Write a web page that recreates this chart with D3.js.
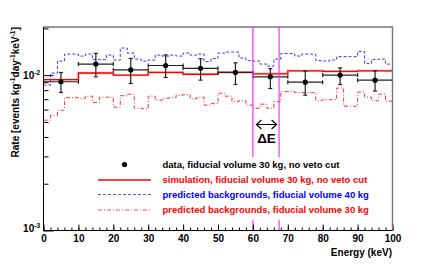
<!DOCTYPE html>
<html>
<head>
<meta charset="utf-8">
<title>Rate vs Energy</title>
<style>
  body { margin: 0; background: #fff; }
  svg#canvas { display: block; font-family: "Liberation Sans", Arial, sans-serif; font-weight: bold; }
</style>
</head>
<body>
<svg id="canvas" width="436" height="272"></svg>
<script src="https://cdn.jsdelivr.net/npm/d3@7"></script>
<script>
// measured data, 10 keV bins
const dataE = [5, 15, 25, 35, 45, 55, 65, 75, 85, 95];
const dataRate = [0.00906, 0.01178, 0.0108, 0.01153, 0.01105, 0.0104, 0.00975, 0.00901, 0.0100, 0.00928];
const dataHi = [0.0104, 0.0138, 0.0128, 0.0135, 0.01274, 0.0120, 0.0110, 0.0106, 0.01114, 0.01066];
const dataLo = [0.00773, 0.00975, 0.00883, 0.00966, 0.00928, 0.0087, 0.0082, 0.00743, 0.0087, 0.0079];

// simulation, 10 keV bins
const simRate = [0.00935, 0.01032, 0.0100, 0.0104, 0.01013, 0.0104, 0.0102, 0.01066, 0.01056, 0.01066];

// predicted backgrounds, 2 keV bins
const bkg40 = [0.00862, 0.0103, 0.01231, 0.01366, 0.01366, 0.01326, 0.01366, 0.01259, 0.01259, 0.01346,
  0.0125, 0.01494, 0.01387, 0.01268, 0.01231, 0.0125, 0.01346, 0.01326, 0.01346, 0.01326,
  0.01387, 0.01346, 0.01366, 0.01222, 0.01278, 0.01387, 0.01407, 0.01407, 0.01288, 0.0124,
  0.01231, 0.01178, 0.01143, 0.01268, 0.01376, 0.01376, 0.01326, 0.01366, 0.01366, 0.0124,
  0.01231, 0.0125, 0.01316, 0.01316, 0.01316, 0.01418, 0.01186, 0.01259, 0.01268, 0.01178];
const bkg30 = [0.00513, 0.00552, 0.00594, 0.00716, 0.00716, 0.00710, 0.00732, 0.00665, 0.00721, 0.00721,
  0.00622, 0.00737, 0.00754, 0.00612, 0.00608, 0.00732, 0.00690, 0.00710, 0.00716, 0.00743,
  0.00749, 0.00705, 0.00721, 0.00641, 0.00655, 0.00765, 0.00732, 0.00675, 0.00685, 0.00641,
  0.00612, 0.00650, 0.00612, 0.00675, 0.00783, 0.00783, 0.00771, 0.00771, 0.00771, 0.00685,
  0.00695, 0.00695, 0.00825, 0.00631, 0.00631, 0.00777, 0.00721, 0.00685, 0.00754, 0.00680];

const xTicks = [0, 10, 20, 30, 40, 50, 60, 70, 80, 90, 100];
const yMajor = [1e-3, 1e-2];
const yMajorExp = ["-3", "-2"];
const yMinor = [2e-3, 3e-3, 4e-3, 5e-3, 6e-3, 7e-3, 8e-3, 9e-3, 2e-2];
const windowE = [60, 67.5];

const legendLabels = [
  "data, fiducial volume 30 kg, no veto cut",
  "simulation, fiducial volume 30 kg, no veto cut",
  "predicted backgrounds, fiducial volume 40 kg",
  "predicted backgrounds, fiducial volume 30 kg"
];

const svg = d3.select("svg#canvas");
const x = d3.scaleLinear().domain([0, 100]).range([43.5, 392.5]);
const y = d3.scaleLog().domain([1e-3, 0.0204]).range([230.5, 27]);

const stepPts = (vals, w) => vals.map((v, i) => [i * w, v]).concat([[vals.length * w, vals[vals.length - 1]]]);
const step = d3.line().x(d => x(d[0])).y(d => y(d[1])).curve(d3.curveStepAfter);

// backgrounds
svg.append("path").attr("d", step(stepPts(bkg40, 2)))
  .attr("fill", "none").attr("stroke", "#3a3aff").attr("stroke-width", 1).attr("stroke-dasharray", "3,2");
svg.append("path").attr("d", step(stepPts(bkg30, 2)))
  .attr("fill", "none").attr("stroke", "#ff3030").attr("stroke-width", 1).attr("stroke-dasharray", "4,2,1,2");

// simulation
svg.append("path").attr("d", step(stepPts(simRate, 10)))
  .attr("fill", "none").attr("stroke", "#ff6060").attr("stroke-width", 2.4).attr("opacity", 0.4);
svg.append("path").attr("d", step(stepPts(simRate, 10)))
  .attr("fill", "none").attr("stroke", "#f00").attr("stroke-width", 1.3);

// data with error bars
const pts = svg.append("g").selectAll("g").data(dataE).enter().append("g");
pts.append("line").attr("x1", d => x(d - 5)).attr("x2", d => x(d + 5))
  .attr("y1", (d, i) => y(dataRate[i])).attr("y2", (d, i) => y(dataRate[i]));
pts.append("line").attr("x1", d => x(d - 5)).attr("x2", d => x(d - 5))
  .attr("y1", (d, i) => y(dataRate[i]) - 2).attr("y2", (d, i) => y(dataRate[i]) + 2);
pts.append("line").attr("x1", d => x(d + 5)).attr("x2", d => x(d + 5))
  .attr("y1", (d, i) => y(dataRate[i]) - 2).attr("y2", (d, i) => y(dataRate[i]) + 2);
pts.append("line").attr("x1", d => x(d)).attr("x2", d => x(d))
  .attr("y1", (d, i) => y(dataHi[i])).attr("y2", (d, i) => y(dataLo[i]));
pts.append("line").attr("x1", d => x(d) - 2).attr("x2", d => x(d) + 2)
  .attr("y1", (d, i) => y(dataHi[i])).attr("y2", (d, i) => y(dataHi[i]));
pts.append("line").attr("x1", d => x(d) - 2).attr("x2", d => x(d) + 2)
  .attr("y1", (d, i) => y(dataLo[i])).attr("y2", (d, i) => y(dataLo[i]));
pts.selectAll("line").attr("stroke", "#222").attr("stroke-width", 1.2);
pts.append("circle").attr("cx", d => x(d)).attr("cy", (d, i) => y(dataRate[i])).attr("r", 2.6).attr("fill", "#000");

// energy window
svg.selectAll(".win").data(windowE).enter().append("line").attr("class", "win")
  .attr("x1", d => x(d)).attr("x2", d => x(d)).attr("y1", 27).attr("y2", 230)
  .attr("stroke", "#ff30ff").attr("stroke-width", 1.2);

// Delta E arrow
const ay = 124.5, ax0 = x(windowE[0]) + 3.5, ax1 = x(windowE[1]) - 2.5;
svg.append("path")
  .attr("d", `M${ax0},${ay}H${ax1}M${ax0 + 5},${ay - 4.5}L${ax0},${ay}L${ax0 + 5},${ay + 4.5}M${ax1 - 5},${ay - 4.5}L${ax1},${ay}L${ax1 - 5},${ay + 4.5}`)
  .attr("fill", "none").attr("stroke", "#000").attr("stroke-width", 1.2);
svg.append("text").attr("x", (ax0 + ax1) / 2).attr("y", 143).attr("text-anchor", "middle")
  .attr("font-size", 13.5).text("\u0394E");

// legend
const lg = svg.append("g");
lg.append("rect").attr("x", 92).attr("y", 157).attr("width", 280).attr("height", 63).attr("fill", "#fff");
const legY = [164.5, 180, 194.5, 210];
const legCol = ["#000", "#f00", "#00f", "#f00"];
lg.append("circle").attr("cx", 124.5).attr("cy", legY[0]).attr("r", 2.6).attr("fill", "#000");
lg.append("line").attr("x1", 98).attr("x2", 151).attr("y1", legY[1]).attr("y2", legY[1])
  .attr("stroke", "#f00").attr("stroke-width", 1.5);
lg.append("line").attr("x1", 98).attr("x2", 151).attr("y1", legY[2]).attr("y2", legY[2])
  .attr("stroke", "#5a5aff").attr("stroke-width", 1).attr("stroke-dasharray", "3,2");
lg.append("line").attr("x1", 98).attr("x2", 151).attr("y1", legY[3]).attr("y2", legY[3])
  .attr("stroke", "#ff5050").attr("stroke-width", 1).attr("stroke-dasharray", "4,2,1,2");
lg.selectAll("text").data(legendLabels).enter().append("text")
  .attr("x", 162.5).attr("y", (d, i) => legY[i] + 3.4)
  .attr("font-size", 9.5).attr("fill", (d, i) => legCol[i]).text(d => d);

// axes
const xAxis = svg.append("g").attr("transform", "translate(0,230.5)")
  .call(d3.axisBottom(x).tickValues(xTicks).tickSizeInner(-6).tickSizeOuter(0).tickPadding(4).tickFormat(d3.format("d")));
svg.append("g").attr("transform", "translate(0,230.5)")
  .call(d3.axisBottom(x).tickValues(d3.range(0, 101, 2)).tickSizeInner(-3).tickSizeOuter(0).tickFormat(""));
svg.selectAll(".domain").remove();
xAxis.selectAll("text").attr("font-size", 10).attr("font-family", "Liberation Sans, Arial, sans-serif")
  .attr("font-weight", "bold").attr("fill", "#000");

svg.append("g").attr("transform", "translate(43.5,0)")
  .call(d3.axisLeft(y).tickValues(yMajor).tickSizeInner(-10).tickSizeOuter(0).tickFormat(""));
svg.append("g").attr("transform", "translate(43.5,0)")
  .call(d3.axisLeft(y).tickValues(yMinor).tickSizeInner(-5).tickSizeOuter(0).tickFormat(""));
svg.selectAll(".domain").remove();

const yl = svg.append("g").selectAll("text").data(yMajor).enter().append("text")
  .attr("x", 40).attr("y", d => Math.min(y(d), 228) + 4).attr("text-anchor", "end").attr("font-size", 10);
yl.append("tspan").text("10");
yl.append("tspan").attr("dy", -4.5).attr("font-size", 6.5).text((d, i) => yMajorExp[i]);

// frame
svg.append("path").attr("d", "M43.5,27H392.5V230.5").attr("fill", "none").attr("stroke", "#777").attr("stroke-width", 1.4);
svg.append("path").attr("d", "M43.5,27V230.5H392.5").attr("fill", "none").attr("stroke", "#000").attr("stroke-width", 1);

// titles
svg.append("text").attr("x", 392).attr("y", 255.5).attr("text-anchor", "end").attr("font-size", 10).text("Energy (keV)");
const yt = svg.append("text").attr("transform", "translate(18.5,27) rotate(-90)")
  .attr("text-anchor", "end").attr("font-size", 10);
yt.append("tspan").text("Rate [events kg");
yt.append("tspan").attr("dy", -4).attr("font-size", 6.8).text("-1");
yt.append("tspan").attr("dy", 4).text("day");
yt.append("tspan").attr("dy", -4).attr("font-size", 6.8).text("-1");
yt.append("tspan").attr("dy", 4).text("keV");
yt.append("tspan").attr("dy", -4).attr("font-size", 6.8).text("-1");
yt.append("tspan").attr("dy", 4).text("]");
</script>
</body>
</html>
